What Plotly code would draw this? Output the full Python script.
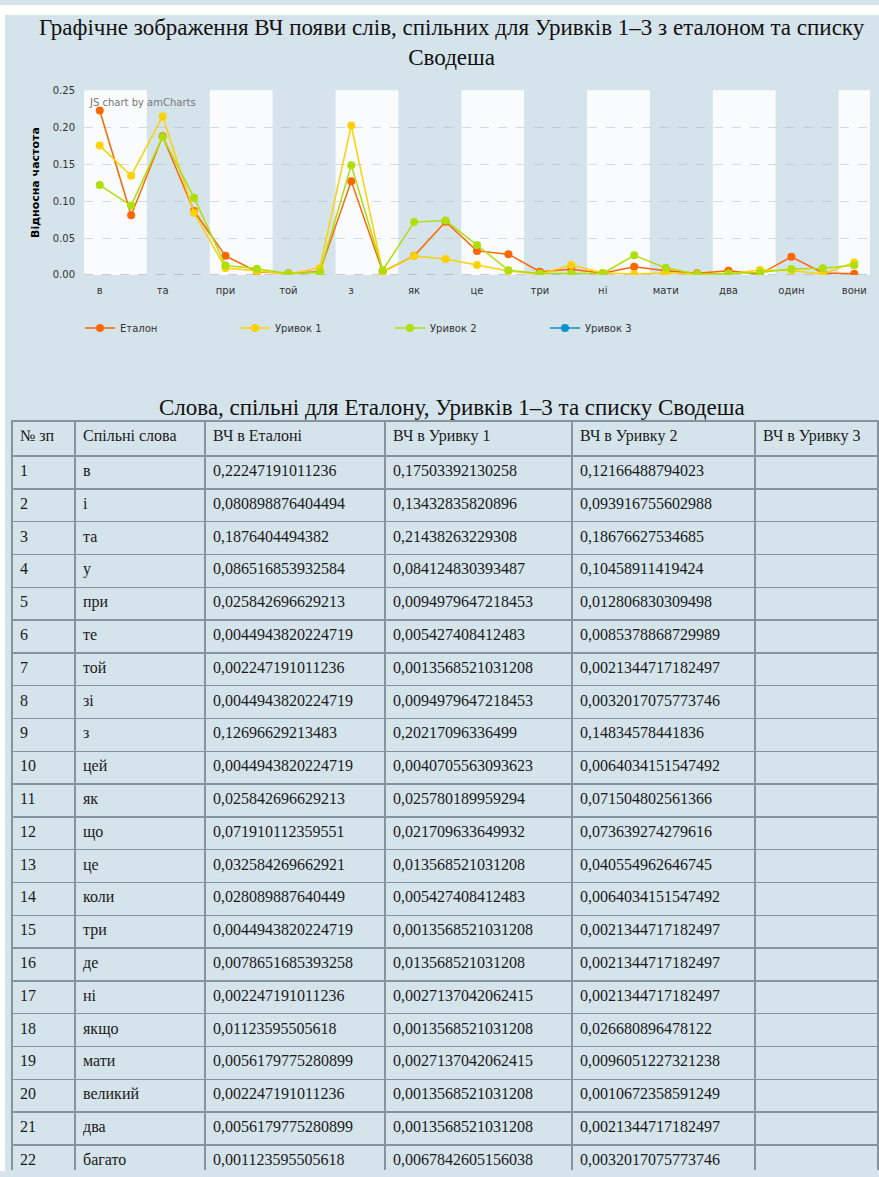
import plotly.graph_objects as go

# ---------------- data ----------------
categories = ["в", "і", "та", "у", "при", "те", "той", "зі", "з", "цей", "як", "що", "це",
              "коли", "три", "де", "ні", "якщо", "мати", "великий", "два", "багато",
              "один", "все", "вони"]

etalon = [0.22247191011236, 0.080898876404494, 0.1876404494382, 0.086516853932584,
          0.025842696629213, 0.0044943820224719, 0.002247191011236, 0.0044943820224719,
          0.12696629213483, 0.0044943820224719, 0.025842696629213, 0.071910112359551,
          0.032584269662921, 0.028089887640449, 0.0044943820224719, 0.0078651685393258,
          0.002247191011236, 0.01123595505618, 0.0056179775280899, 0.002247191011236,
          0.0056179775280899, 0.001123595505618,
          0.0245, 0.0027, 0.0015]

uryvok1 = [0.17503392130258, 0.13432835820896, 0.21438263229308, 0.084124830393487,
           0.0094979647218453, 0.005427408412483, 0.0013568521031208, 0.0094979647218453,
           0.20217096336499, 0.0040705563093623, 0.025780189959294, 0.021709633649932,
           0.013568521031208, 0.005427408412483, 0.0013568521031208, 0.013568521031208,
           0.0027137042062415, 0.0013568521031208, 0.0027137042062415, 0.0013568521031208,
           0.0013568521031208, 0.0067842605156038,
           0.006, 0.0013, 0.017]

uryvok2 = [0.12166488794023, 0.093916755602988, 0.18676627534685, 0.10458911419424,
           0.012806830309498, 0.0085378868729989, 0.0021344717182497, 0.0032017075773746,
           0.14834578441836, 0.0064034151547492, 0.071504802561366, 0.073639274279616,
           0.040554962646745, 0.0064034151547492, 0.0021344717182497, 0.0021344717182497,
           0.0021344717182497, 0.026680896478122, 0.0096051227321238, 0.0010672358591249,
           0.0021344717182497, 0.0032017075773746,
           0.008, 0.009, 0.013]

uryvok3 = [None] * len(categories)

series_names = ["Еталон", "Уривок 1", "Уривок 2", "Уривок 3"]
series_colors = ["#FF6600", "#FCD202", "#B0DE09", "#0D8ECF"]

table_header = ["№ зп", "Спільні слова", "ВЧ в Еталоні", "ВЧ в Уривку 1", "ВЧ в Уривку 2", "ВЧ в Уривку 3"]
visible_rows = 22

title_text = "Графічне зображення ВЧ появи слів, спільних для Уривків 1–3 з еталоном та списку<br>Сводеша"
table_title = "Слова, спільні для Еталону, Уривків 1–3 та списку Сводеша"
y_title = "Відносна частота"

# ---------------- layout constants ----------------
W, H = 879, 1177
BG = "#d5e3eb"
SANS = "DejaVu Sans"
SERIF = "Liberation Serif"


def py(p):
    return 1 - p / H


def px(p):
    return p / W


fig = go.Figure()

for name, vals, col in zip(series_names, [etalon, uryvok1, uryvok2, uryvok3], series_colors):
    fig.add_trace(go.Scatter(
        x=categories, y=vals, name=name, mode="lines+markers",
        line=dict(color=col, width=1.5),
        marker=dict(color=col, size=8),
        xaxis="x", yaxis="y",
    ))


def fmt(v):
    return repr(v).replace(".", ",")


n = visible_rows
fig.add_trace(go.Table(
    domain=dict(x=[px(12), px(878)], y=[0, py(420)]),
    columnwidth=[63, 130, 180, 187, 183, 123],
    header=dict(values=table_header, align="left", height=35,
                fill_color=BG, line=dict(color="#8595a0", width=1.5),
                font=dict(family=SERIF, size=16, color="#1a1a1a")),
    cells=dict(values=[[str(i + 1) for i in range(n)],
                       categories[:n],
                       [fmt(v) for v in etalon[:n]],
                       [fmt(v) for v in uryvok1[:n]],
                       [fmt(v) for v in uryvok2[:n]],
                       ["" for _ in range(n)]],
               align="left", height=32.8,
               fill_color=BG, line=dict(color="#8595a0", width=1.5),
               font=dict(family=SERIF, size=16, color="#1a1a1a")),
))

# alternating white column bands (every other pair of categories)
shapes = []
for i in range(0, len(categories), 4):
    shapes.append(dict(type="rect", xref="x", yref="y domain", x0=i - 0.5,
                       x1=min(i + 1.5, len(categories) - 0.5), y0=0, y1=1,
                       fillcolor="rgba(255,255,255,0.85)", line=dict(width=0), layer="below"))
shapes.append(dict(type="line", xref="x domain", yref="y", x0=0, x1=1, y0=0, y1=0,
                   line=dict(color="#9aa3a8", width=1, dash="dash"), layer="below"))
# white strips at the top and left edge of the page
shapes.append(dict(type="rect", xref="paper", yref="paper", x0=0, x1=1, y0=py(10), y1=1,
                   fillcolor="white", line=dict(width=0), layer="below"))
shapes.append(dict(type="rect", xref="paper", yref="paper", x0=0, x1=px(5), y0=0, y1=1,
                   fillcolor="white", line=dict(width=0), layer="below"))

fig.update_layout(
    width=W, height=H,
    margin=dict(l=0, r=0, t=0, b=0),
    paper_bgcolor=BG, plot_bgcolor="rgba(0,0,0,0)",
    showlegend=True,
    shapes=shapes,
    xaxis=dict(domain=[px(84), px(870)], type="category", range=[-0.5, len(categories) - 0.5],
               tickmode="linear", tick0=0, dtick=2, showgrid=False, zeroline=False,
               showline=False, ticks="", ticklabelstandoff=8,
               tickfont=dict(family=SANS, size=10, color="#333333"), anchor="y"),
    yaxis=dict(domain=[py(272.5), py(86)], range=[0, 0.25], tickvals=[0, 0.05, 0.1, 0.15, 0.2, 0.25],
               tickformat=".2f", showgrid=True, gridcolor="rgba(150,160,168,0.35)", griddash="dash",
               zeroline=False, showline=False, ticks="", ticklabelstandoff=8,
               tickfont=dict(family=SANS, size=10, color="#333333"), anchor="x",
               title=dict(text="<b>" + y_title + "</b>", font=dict(family=SANS, size=11, color="#000000"),
                          standoff=10)),
    legend=dict(orientation="h", x=px(80), xanchor="left", y=py(326), yanchor="middle",
                entrywidth=110, entrywidthmode="pixels", bgcolor="rgba(0,0,0,0)",
                font=dict(family=SANS, size=10, color="#333333")),
    annotations=[
        dict(text=title_text, xref="paper", yref="paper", x=px(452), y=py(38), xanchor="center",
             yanchor="middle", showarrow=False, font=dict(family=SERIF, size=23, color="#111111")),
        dict(text=table_title, xref="paper", yref="paper", x=px(452), y=py(406), xanchor="center",
             yanchor="middle", showarrow=False, font=dict(family=SERIF, size=23, color="#111111")),
        dict(text="JS chart by amCharts", xref="paper", yref="paper", x=px(87), y=py(98),
             xanchor="left", yanchor="middle", showarrow=False,
             font=dict(family=SANS, size=10, color="#777777")),
    ],
)

fig.write_html("out.html", config={"displayModeBar": False},
               post_script="document.body.style.margin='0';")
